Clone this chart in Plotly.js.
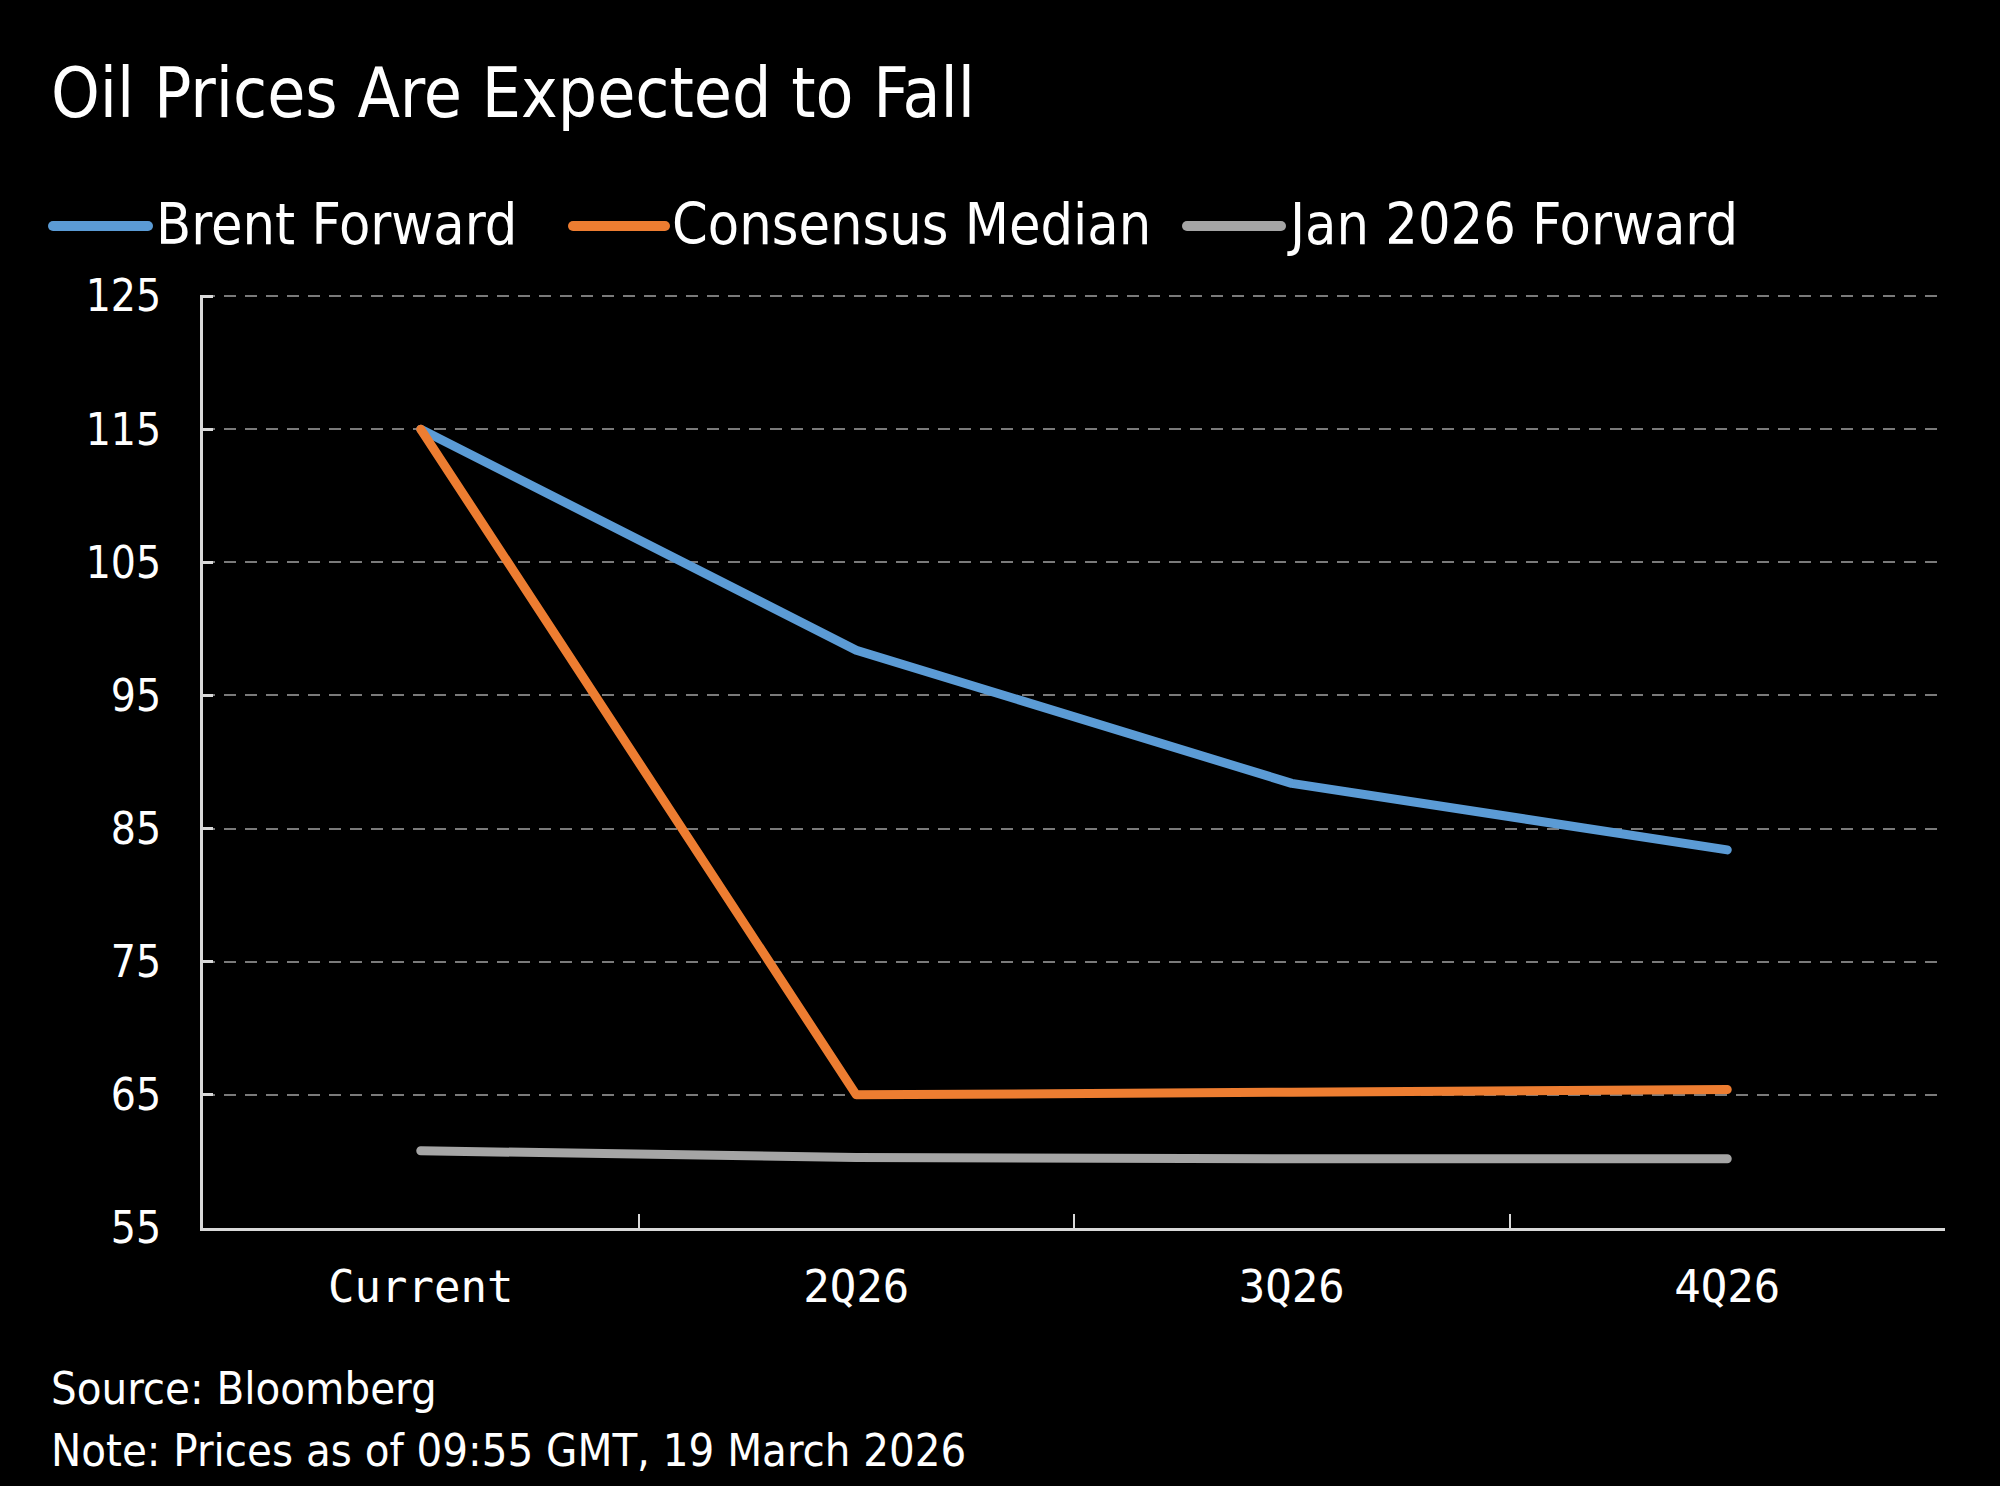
<!DOCTYPE html>
<html>
<head>
<meta charset="utf-8">
<script src="https://cdn.plot.ly/plotly-3.0.1.min.js"></script>
<style>
  html, body { margin: 0; padding: 0; background: #000; }
  #chart { width: 2000px; height: 1486px; }
  .js-line { stroke-linecap: round; stroke-linejoin: round; }
  .shapelayer path { stroke-linecap: round; }
</style>
</head>
<body>
<div id="chart"></div>
<script>
// ---- data ----
const categories = ['Current', '2Q26', '3Q26', '4Q26'];
const seriesNames = ['Brent Forward', 'Consensus Median', 'Jan 2026 Forward'];
const brentForward = [115, 98.4, 88.4, 83.4];
const consensusMedian = [115, 65.0, 65.2, 65.4];
const jan2026Forward = [60.8, 60.3, 60.2, 60.2];
const yTickValues = [55, 65, 75, 85, 95, 105, 115, 125];
const titleText = 'Oil Prices Are Expected to Fall';
const sourceText = 'Source: Bloomberg';
const noteText = 'Note: Prices as of 09:55 GMT, 19 March 2026';

// ---- styling ----
const colors = ['#5B9BD5', '#ED7D31', '#A5A5A5'];
const W = 2000, H = 1486;
const M = { l: 203, r: 55, t: 295, b: 258 };
const plotW = W - M.l - M.r, plotH = H - M.t - M.b;
const px2x = px => (px - M.l) / plotW;
const px2y = py => (H - M.b - py) / plotH;
const sansFont = '"DejaVu Sans Condensed", "DejaVu Sans", sans-serif';
const monoFont = '"DejaVu Sans Mono", "Liberation Mono", monospace';

const seriesValues = [brentForward, consensusMedian, jan2026Forward];
const traces = seriesValues.map((vals, i) => ({
  type: 'scatter',
  mode: 'lines',
  x: categories,
  y: vals,
  name: seriesNames[i],
  line: { color: colors[i], width: 9 },
  showlegend: false,
  hoverinfo: 'x+y+name'
}));

// custom legend (long line swatches)
const legendItems = [
  { lx0: 53, lx1: 148, tx: 154 },
  { lx0: 573, lx1: 665, tx: 670 },
  { lx0: 1187, lx1: 1281, tx: 1285 }
];
const legendY = 226;
const shapes = legendItems.map((it, i) => ({
  type: 'line', xref: 'paper', yref: 'paper',
  x0: px2x(it.lx0), x1: px2x(it.lx1), y0: px2y(legendY), y1: px2y(legendY),
  line: { color: colors[i], width: 10 }
}));
const annotations = legendItems.map((it, i) => ({
  xref: 'paper', yref: 'paper',
  x: px2x(it.tx), y: px2y(legendY - 2),
  xanchor: 'left', yanchor: 'middle',
  text: seriesNames[i], showarrow: false,
  font: { family: sansFont, size: 57, color: '#ffffff' }
}));
annotations.push({
  xref: 'paper', yref: 'paper', x: px2x(49), y: px2y(1388),
  xanchor: 'left', yanchor: 'middle', text: sourceText, showarrow: false,
  font: { family: sansFont, size: 45, color: '#ffffff' }
});
annotations.push({
  xref: 'paper', yref: 'paper', x: px2x(49), y: px2y(1450),
  xanchor: 'left', yanchor: 'middle', text: noteText, showarrow: false,
  font: { family: sansFont, size: 45, color: '#ffffff' }
});

const layout = {
  width: W, height: H,
  paper_bgcolor: '#000000',
  plot_bgcolor: '#000000',
  margin: M,
  showlegend: false,
  title: {
    text: titleText,
    x: 51 / W, xref: 'container', xanchor: 'left',
    y: 1 - 93 / H, yref: 'container', yanchor: 'middle',
    font: { family: sansFont, size: 69, color: '#ffffff' }
  },
  xaxis: {
    type: 'category',
    range: [-0.5, 3.5],
    showgrid: false,
    zeroline: false,
    showline: true,
    linecolor: '#d9d9d9',
    linewidth: 3,
    ticks: 'inside',
    tickson: 'boundaries',
    ticklen: 14,
    tickwidth: 2,
    tickcolor: '#d9d9d9',
    ticklabelstandoff: 18,
    tickfont: { family: monoFont, size: 44, color: '#ffffff' },
    fixedrange: true
  },
  yaxis: {
    range: [55, 125.08],
    tickmode: 'array',
    tickvals: yTickValues,
    ticktext: yTickValues.map(String),
    showgrid: true,
    gridcolor: '#7a7a7a',
    gridwidth: 2,
    griddash: '12px,9px',
    zeroline: false,
    showline: true,
    linecolor: '#d9d9d9',
    linewidth: 3,
    ticks: 'inside',
    ticklen: 10,
    tickwidth: 3,
    tickcolor: '#d9d9d9',
    ticklabelstandoff: 30,
    tickfont: { family: sansFont, size: 44, color: '#ffffff' },
    fixedrange: true
  },
  shapes: shapes,
  annotations: annotations
};

Plotly.newPlot('chart', traces, layout, { displayModeBar: false, staticPlot: true });
</script>
</body>
</html>
